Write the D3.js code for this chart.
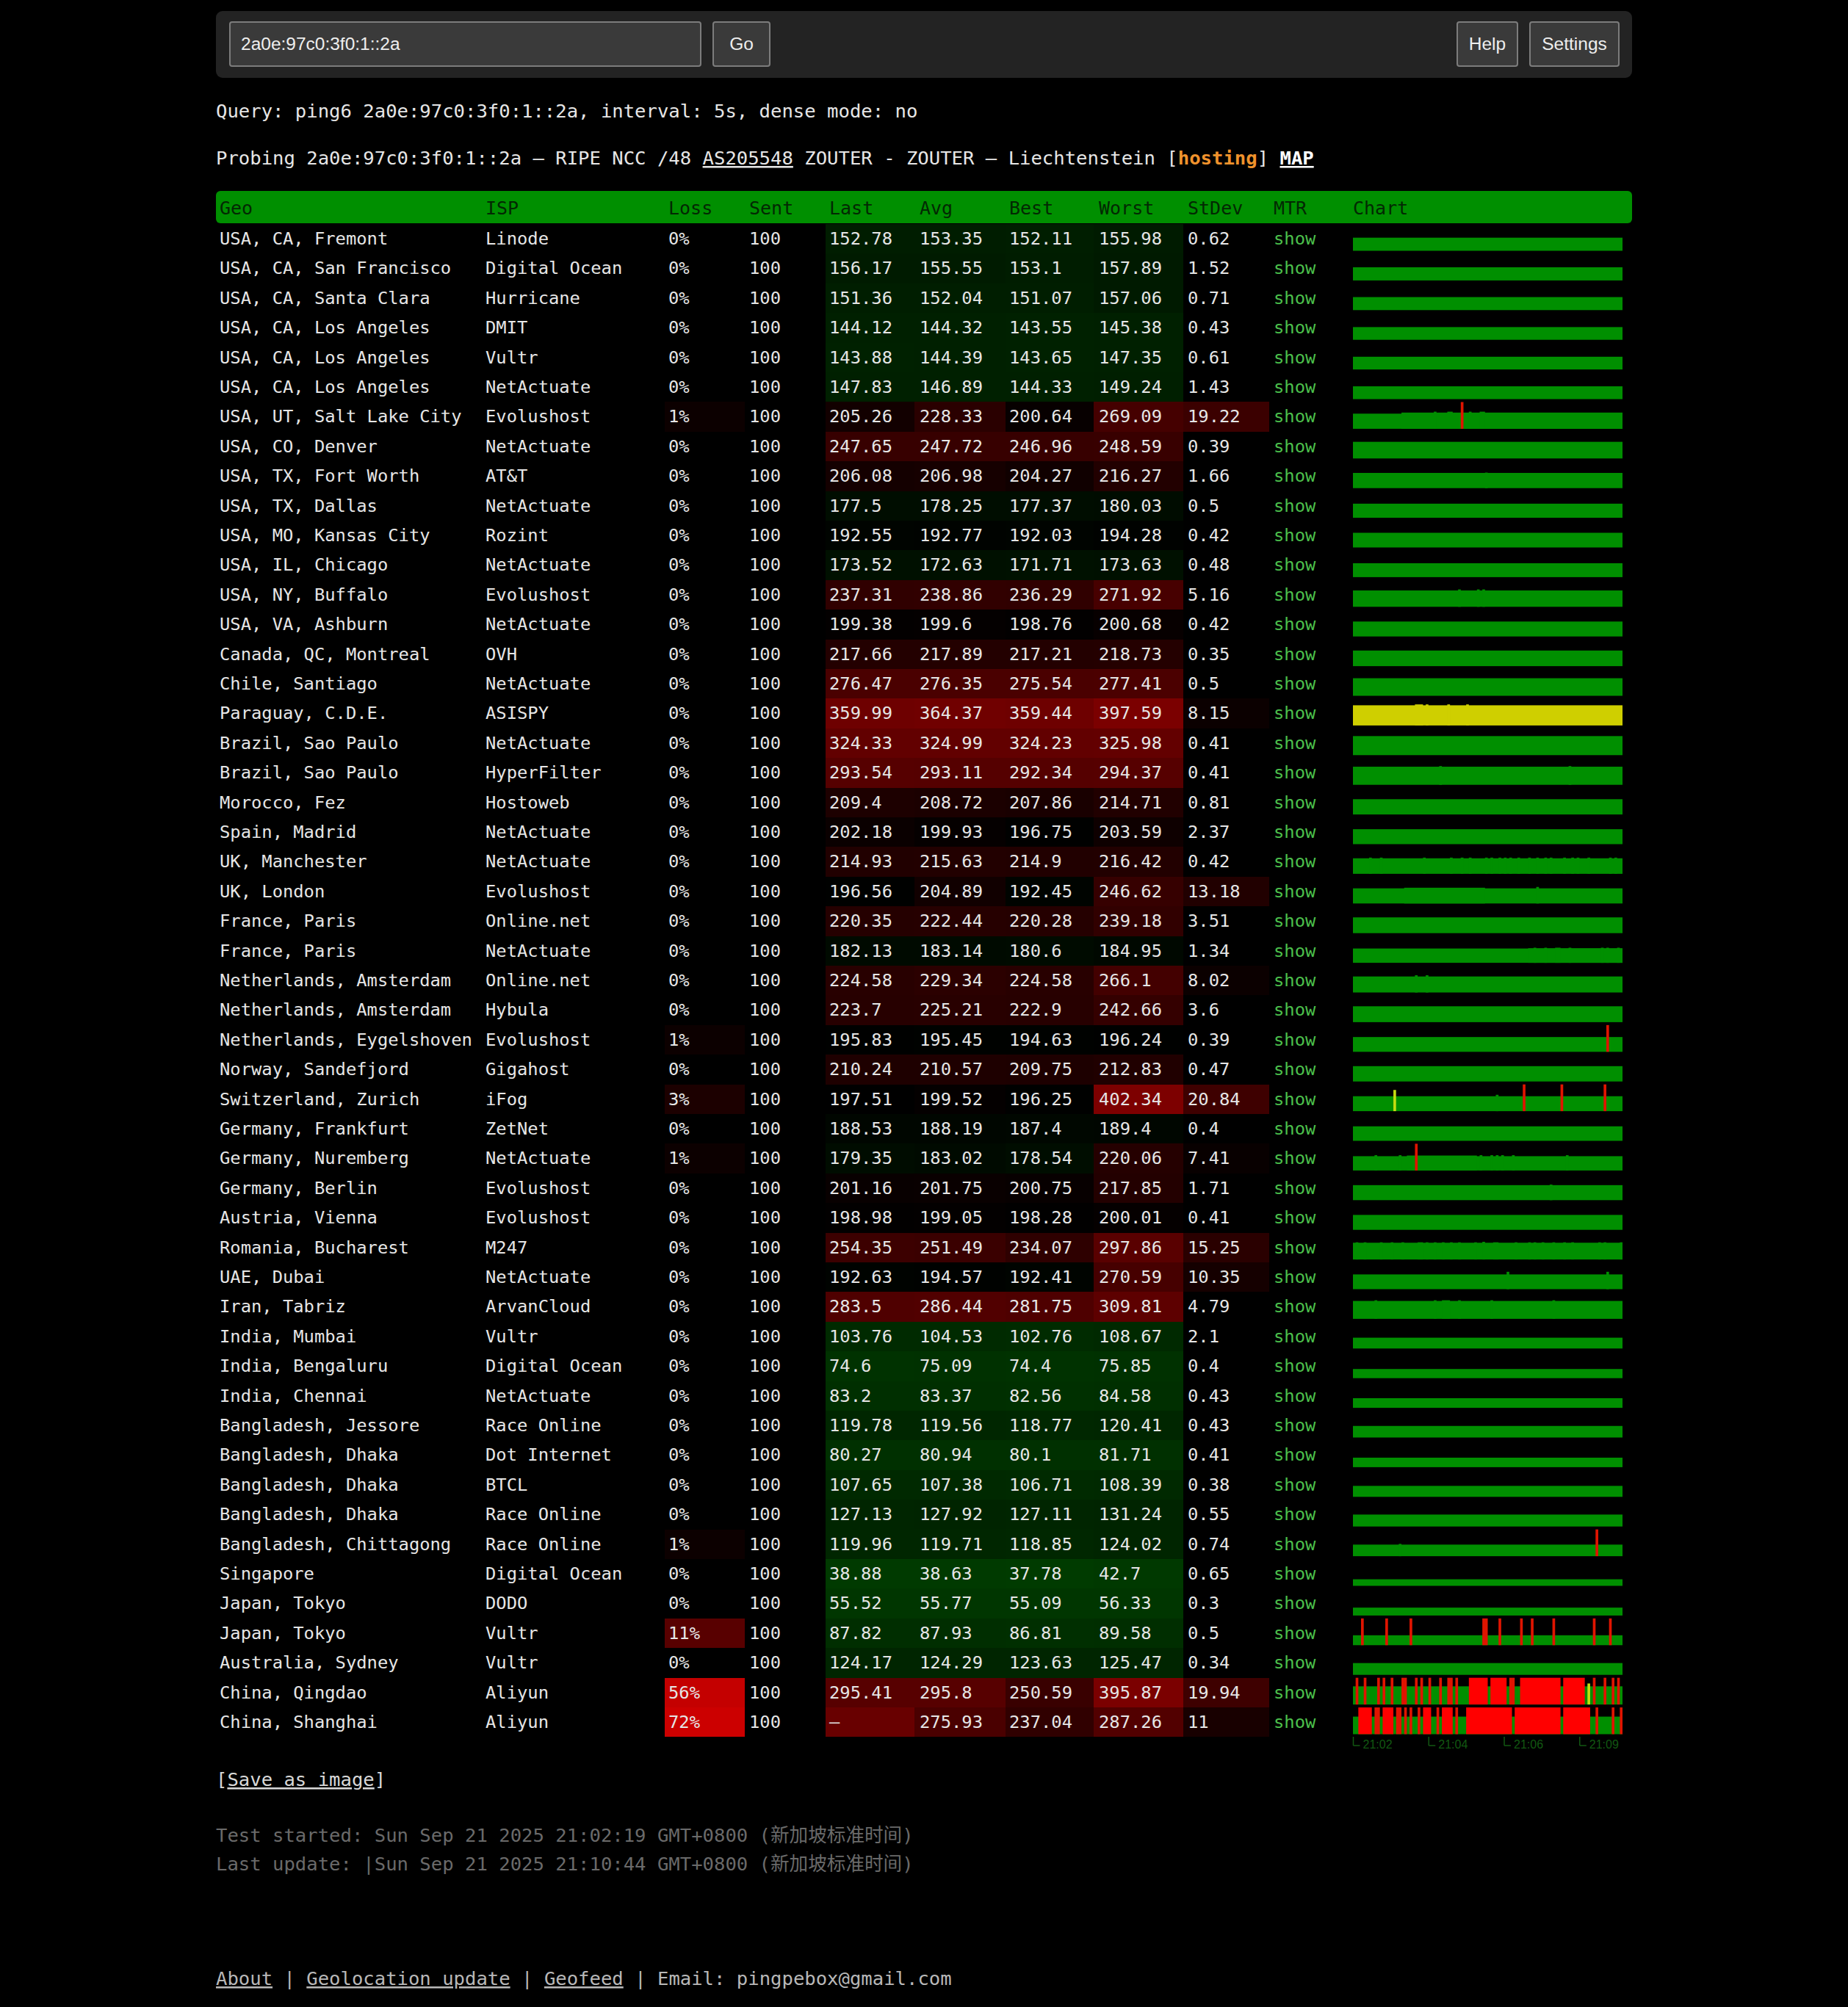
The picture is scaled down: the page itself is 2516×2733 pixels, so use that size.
<!DOCTYPE html>
<html>
<head>
<meta charset="utf-8">
<script src="https://d3js.org/d3.v7.min.js"></script>
<style>
html, body { margin: 0; background: #000; }
svg { display: block; }
text { white-space: pre; }
</style>
</head>
<body>
<div id="root"></div>
<script>
const geos = ['USA, CA, Fremont', 'USA, CA, San Francisco', 'USA, CA, Santa Clara', 'USA, CA, Los Angeles', 'USA, CA, Los Angeles', 'USA, CA, Los Angeles', 'USA, UT, Salt Lake City', 'USA, CO, Denver', 'USA, TX, Fort Worth', 'USA, TX, Dallas', 'USA, MO, Kansas City', 'USA, IL, Chicago', 'USA, NY, Buffalo', 'USA, VA, Ashburn', 'Canada, QC, Montreal', 'Chile, Santiago', 'Paraguay, C.D.E.', 'Brazil, Sao Paulo', 'Brazil, Sao Paulo', 'Morocco, Fez', 'Spain, Madrid', 'UK, Manchester', 'UK, London', 'France, Paris', 'France, Paris', 'Netherlands, Amsterdam', 'Netherlands, Amsterdam', 'Netherlands, Eygelshoven', 'Norway, Sandefjord', 'Switzerland, Zurich', 'Germany, Frankfurt', 'Germany, Nuremberg', 'Germany, Berlin', 'Austria, Vienna', 'Romania, Bucharest', 'UAE, Dubai', 'Iran, Tabriz', 'India, Mumbai', 'India, Bengaluru', 'India, Chennai', 'Bangladesh, Jessore', 'Bangladesh, Dhaka', 'Bangladesh, Dhaka', 'Bangladesh, Dhaka', 'Bangladesh, Chittagong', 'Singapore', 'Japan, Tokyo', 'Japan, Tokyo', 'Australia, Sydney', 'China, Qingdao', 'China, Shanghai']
const isps = ['Linode', 'Digital Ocean', 'Hurricane', 'DMIT', 'Vultr', 'NetActuate', 'Evolushost', 'NetActuate', 'AT&T', 'NetActuate', 'Rozint', 'NetActuate', 'Evolushost', 'NetActuate', 'OVH', 'NetActuate', 'ASISPY', 'NetActuate', 'HyperFilter', 'Hostoweb', 'NetActuate', 'NetActuate', 'Evolushost', 'Online.net', 'NetActuate', 'Online.net', 'Hybula', 'Evolushost', 'Gigahost', 'iFog', 'ZetNet', 'NetActuate', 'Evolushost', 'Evolushost', 'M247', 'NetActuate', 'ArvanCloud', 'Vultr', 'Digital Ocean', 'NetActuate', 'Race Online', 'Dot Internet', 'BTCL', 'Race Online', 'Race Online', 'Digital Ocean', 'DODO', 'Vultr', 'Vultr', 'Aliyun', 'Aliyun']
const loss = [0, 0, 0, 0, 0, 0, 1, 0, 0, 0, 0, 0, 0, 0, 0, 0, 0, 0, 0, 0, 0, 0, 0, 0, 0, 0, 0, 1, 0, 3, 0, 1, 0, 0, 0, 0, 0, 0, 0, 0, 0, 0, 0, 0, 1, 0, 0, 11, 0, 56, 72]
const last = [152.78, 156.17, 151.36, 144.12, 143.88, 147.83, 205.26, 247.65, 206.08, 177.5, 192.55, 173.52, 237.31, 199.38, 217.66, 276.47, 359.99, 324.33, 293.54, 209.4, 202.18, 214.93, 196.56, 220.35, 182.13, 224.58, 223.7, 195.83, 210.24, 197.51, 188.53, 179.35, 201.16, 198.98, 254.35, 192.63, 283.5, 103.76, 74.6, 83.2, 119.78, 80.27, 107.65, 127.13, 119.96, 38.88, 55.52, 87.82, 124.17, 295.41, null]
const avg = [153.35, 155.55, 152.04, 144.32, 144.39, 146.89, 228.33, 247.72, 206.98, 178.25, 192.77, 172.63, 238.86, 199.6, 217.89, 276.35, 364.37, 324.99, 293.11, 208.72, 199.93, 215.63, 204.89, 222.44, 183.14, 229.34, 225.21, 195.45, 210.57, 199.52, 188.19, 183.02, 201.75, 199.05, 251.49, 194.57, 286.44, 104.53, 75.09, 83.37, 119.56, 80.94, 107.38, 127.92, 119.71, 38.63, 55.77, 87.93, 124.29, 295.8, 275.93]
const best = [152.11, 153.1, 151.07, 143.55, 143.65, 144.33, 200.64, 246.96, 204.27, 177.37, 192.03, 171.71, 236.29, 198.76, 217.21, 275.54, 359.44, 324.23, 292.34, 207.86, 196.75, 214.9, 192.45, 220.28, 180.6, 224.58, 222.9, 194.63, 209.75, 196.25, 187.4, 178.54, 200.75, 198.28, 234.07, 192.41, 281.75, 102.76, 74.4, 82.56, 118.77, 80.1, 106.71, 127.11, 118.85, 37.78, 55.09, 86.81, 123.63, 250.59, 237.04]
const worst = [155.98, 157.89, 157.06, 145.38, 147.35, 149.24, 269.09, 248.59, 216.27, 180.03, 194.28, 173.63, 271.92, 200.68, 218.73, 277.41, 397.59, 325.98, 294.37, 214.71, 203.59, 216.42, 246.62, 239.18, 184.95, 266.1, 242.66, 196.24, 212.83, 402.34, 189.4, 220.06, 217.85, 200.01, 297.86, 270.59, 309.81, 108.67, 75.85, 84.58, 120.41, 81.71, 108.39, 131.24, 124.02, 42.7, 56.33, 89.58, 125.47, 395.87, 287.26]
const stdev = [0.62, 1.52, 0.71, 0.43, 0.61, 1.43, 19.22, 0.39, 1.66, 0.5, 0.42, 0.48, 5.16, 0.42, 0.35, 0.5, 8.15, 0.41, 0.41, 0.81, 2.37, 0.42, 13.18, 3.51, 1.34, 8.02, 3.6, 0.39, 0.47, 20.84, 0.4, 7.41, 1.71, 0.41, 15.25, 10.35, 4.79, 2.1, 0.4, 0.43, 0.43, 0.41, 0.38, 0.55, 0.74, 0.65, 0.3, 0.5, 0.34, 19.94, 11]

const columns = ['Geo', 'ISP', 'Loss', 'Sent', 'Last', 'Avg', 'Best', 'Worst', 'StDev', 'MTR', 'Chart']
const sentCount = 100

// sparkline details: [row, first sample, last sample, ms]
const sampleRuns = [
  [6, 18, 99, 235], [6, 30, 30, 262], [6, 35, 36, 262], [6, 43, 43, 262], [6, 47, 48, 262],
  [8, 49, 49, 216],
  [12, 39, 39, 271], [12, 46, 46, 271], [12, 48, 48, 271],
  [16, 23, 25, 397], [16, 27, 27, 397], [16, 35, 35, 397], [16, 42, 42, 397],
  [18, 32, 32, 315], [18, 80, 80, 315],
  [21, 6, 6, 235], [21, 10, 10, 235], [21, 26, 26, 235], [21, 36, 36, 235], [21, 40, 40, 235], [21, 43, 43, 235], [21, 49, 49, 235], [21, 51, 51, 235], [21, 54, 54, 235], [21, 56, 56, 235], [21, 58, 58, 235], [21, 61, 61, 235], [21, 65, 65, 235], [21, 68, 68, 235], [21, 71, 71, 235], [21, 73, 73, 235], [21, 78, 78, 235], [21, 81, 81, 235], [21, 83, 83, 235], [21, 87, 87, 235], [21, 95, 95, 235], [21, 97, 97, 235],
  [22, 19, 48, 222], [22, 68, 68, 245],
  [24, 65, 99, 190], [24, 67, 67, 205], [24, 71, 71, 205], [24, 75, 76, 205], [24, 80, 80, 205], [24, 92, 92, 205], [24, 94, 94, 205], [24, 98, 98, 205],
  [25, 23, 23, 266], [25, 27, 27, 266],
  [29, 15, 15, 402], [29, 53, 53, 240],
  [31, 8, 8, 210], [31, 17, 17, 210], [31, 20, 45, 200], [31, 47, 47, 210], [31, 51, 51, 210], [31, 53, 53, 210], [31, 55, 55, 210], [31, 59, 59, 210], [31, 79, 79, 210],
  [32, 73, 73, 217],
  [34, 1, 1, 265], [34, 4, 4, 265], [34, 10, 10, 265], [34, 14, 14, 265], [34, 18, 18, 265], [34, 24, 25, 265], [34, 27, 27, 265], [34, 30, 30, 265], [34, 33, 33, 265], [34, 36, 36, 265], [34, 39, 39, 265], [34, 45, 45, 265], [34, 48, 48, 280], [34, 52, 53, 265], [34, 60, 60, 265], [34, 65, 65, 265], [34, 67, 67, 265], [34, 70, 70, 265], [34, 74, 74, 265], [34, 78, 78, 265], [34, 81, 81, 265], [34, 91, 91, 265], [34, 93, 93, 265], [34, 99, 99, 265],
  [35, 57, 57, 270], [35, 94, 94, 270],
  [36, 8, 8, 309], [36, 30, 30, 309], [36, 33, 35, 309], [36, 39, 39, 309], [36, 51, 51, 309], [36, 74, 74, 309],
  [44, 17, 17, 135],
  [49, 87, 87, 395.87]
]
// lost probes: [row, first sample, last sample]
const lostRuns = [
  [6, 40, 40], [27, 94, 94], [29, 63, 63], [29, 77, 77], [29, 93, 93], [31, 23, 23], [44, 90, 90],
  [47, 3, 3], [47, 12, 12], [47, 21, 21], [47, 48, 49], [47, 54, 54], [47, 62, 62], [47, 66, 66], [47, 74, 74], [47, 89, 89], [47, 95, 95],
  [49, 1, 1], [49, 4, 4], [49, 9, 9], [49, 11, 11], [49, 14, 14], [49, 18, 19], [49, 23, 23], [49, 25, 25], [49, 28, 28], [49, 32, 32], [49, 35, 36], [49, 38, 38], [49, 43, 49], [49, 51, 56], [49, 58, 59], [49, 62, 76], [49, 78, 85], [49, 89, 89], [49, 93, 93], [49, 96, 96], [49, 98, 98],
  [50, 2, 6], [50, 8, 9], [50, 11, 14], [50, 16, 17], [50, 19, 19], [50, 21, 21], [50, 24, 24], [50, 26, 28], [50, 31, 31], [50, 33, 36], [50, 38, 38], [50, 42, 58], [50, 60, 76], [50, 78, 87], [50, 90, 90], [50, 96, 96], [50, 99, 99]
]
const chartLevelOverride = { 6: 205 }
const timeTickSamples = [0, 28, 56, 84]
const timeTickLabels = ['21:02', '21:04', '21:06', '21:09']

const mono = '"DejaVu Sans Mono", monospace'
const sans = '"Liberation Sans", sans-serif'
const bodySize = 25.6
const tableSize = 23.8
const gray = '#e6e6e6'

const svg = d3.select('#root').append('svg')
svg.attr('width', 2516).attr('height', 2733)

// Top bar
svg.append('rect').attr('x', 294).attr('y', 15).attr('width', 1928).attr('height', 91).attr('rx', 9).attr('fill', '#232323')

function field(x, w, label, textX, anchor) {
  svg.append('rect')
    .attr('x', x).attr('y', 30).attr('width', w).attr('height', 60).attr('rx', 3)
    .attr('fill', '#3a3a3a').attr('stroke', '#7c7c7c').attr('stroke-width', 2)
  svg.append('text')
    .attr('x', textX).attr('y', 68)
    .attr('text-anchor', anchor)
    .attr('font-family', sans).attr('font-size', 24.5).attr('fill', '#eeeeee')
    .text(label)
}
field(313, 641, '2a0e:97c0:3f0:1::2a', 328, 'start')
field(971, 77, 'Go', 1009.5, 'middle')
field(1984, 82, 'Help', 2025, 'middle')
field(2083, 121, 'Settings', 2143.5, 'middle')

// Info lines
function textLine(y, parts, fill) {
  const t = svg.append('text')
    .attr('x', 294).attr('y', y)
    .attr('font-family', mono + ', "Noto Sans CJK SC"').attr('font-size', bodySize).attr('fill', fill)
  parts.forEach(p => {
    const s = t.append('tspan').text(p.text)
    if (p.underline) s.attr('text-decoration', 'underline')
    if (p.bold) s.attr('font-weight', 'bold')
    if (p.fill) s.attr('fill', p.fill)
  })
}
textLine(159.5, [{ text: 'Query: ping6 2a0e:97c0:3f0:1::2a, interval: 5s, dense mode: no' }], gray)
textLine(224, [
  { text: 'Probing 2a0e:97c0:3f0:1::2a – RIPE NCC /48 ' },
  { text: 'AS205548', underline: true },
  { text: ' ZOUTER - ZOUTER – Liechtenstein [' },
  { text: 'hosting', bold: true, fill: '#f0922c' },
  { text: '] ' },
  { text: 'MAP', bold: true, underline: true, fill: '#fff' }
], gray)

// Table scales
const columnX = d3.scaleOrdinal().domain(columns).range([299, 661, 910, 1020, 1129, 1252, 1374, 1496, 1617, 1734, 1842])
const cellLeft = d3.scaleOrdinal().domain(['Loss', 'Last', 'Avg', 'Best', 'Worst', 'StDev']).range([905, 1124, 1245, 1369, 1489, 1611])
const cellRight = d3.scaleOrdinal().domain(['Loss', 'Last', 'Avg', 'Best', 'Worst', 'StDev']).range([1014, 1245, 1369, 1489, 1611, 1728])
const rowY = d3.scaleBand().domain(d3.range(geos.length)).range([305, 305 + 40.4 * geos.length])

const msColor = d3.scaleLinear()
  .domain([40, 150, 198, 210, 300, 400])
  .range(['#003a00', '#001f00', '#000000', '#1e0000', '#5a0000', '#7c0000'])
const lossColor = d3.scaleLinear().domain([0, 1, 3, 11, 56, 72]).range(['#000000', '#0c0000', '#1c0000', '#580000', '#c40000', '#cc0000'])
const stdevColor = d3.scaleLinear().domain([5.5, 20]).range(['#000000', '#3e0000']).clamp(true)
const missingColor = '#680000'

// Header
svg.append('rect').attr('x', 294).attr('y', 260).attr('width', 1928).attr('height', 44).attr('rx', 6).attr('fill', '#008f00')
svg.selectAll('.head').data(columns).join('text')
  .attr('class', 'head')
  .attr('x', d => columnX(d)).attr('y', 292)
  .attr('font-family', mono).attr('font-size', tableSize + 1.2).attr('fill', '#032803')
  .text(d => d)

// Cell backgrounds
const heatColumns = [
  ['Loss', loss, lossColor],
  ['Last', last, msColor],
  ['Avg', avg, msColor],
  ['Best', best, msColor],
  ['Worst', worst, msColor],
  ['StDev', stdev, stdevColor]
]
heatColumns.forEach(([name, values, color]) => {
  svg.append('g').selectAll('rect').data(values).join('rect')
    .attr('x', cellLeft(name))
    .attr('y', (d, i) => rowY(i))
    .attr('width', cellRight(name) - cellLeft(name))
    .attr('height', rowY.bandwidth())
    .attr('shape-rendering', 'crispEdges')
    .attr('fill', d => d === null ? missingColor : color(d))
})

// Cell text
const textColumns = [
  ['Geo', geos, d => d],
  ['ISP', isps, d => d],
  ['Loss', loss, d => d + '%'],
  ['Sent', loss, () => sentCount],
  ['Last', last, d => d === null ? '–' : d],
  ['Avg', avg, d => d],
  ['Best', best, d => d],
  ['Worst', worst, d => d],
  ['StDev', stdev, d => d],
  ['MTR', loss, () => 'show']
]
textColumns.forEach(([name, values, format]) => {
  svg.append('g').selectAll('text').data(values).join('text')
    .attr('x', columnX(name))
    .attr('y', (d, i) => rowY(i) + 28)
    .attr('font-family', mono).attr('font-size', tableSize)
    .attr('fill', name === 'MTR' ? '#4cc04c' : gray)
    .text(format)
})

// Sparklines
const sampleX = d3.scaleLinear().domain([0, sentCount]).range([1842, 2209])
const sampleH = d3.scaleSqrt().domain([0, 400]).range([0, 28.8])
const lostMs = 640
const chartBottom = r => rowY(r) + 36.5
const levelColor = ms => ms >= 350 ? '#cfcf00' : '#008f00'

svg.append('g').selectAll('rect').data(avg).join('rect')
  .attr('x', sampleX(0))
  .attr('width', sampleX(sentCount) - sampleX(0))
  .attr('y', (d, i) => chartBottom(i) - sampleH(chartLevelOverride[i] || d))
  .attr('height', (d, i) => sampleH(chartLevelOverride[i] || d))
  .attr('fill', d => levelColor(d))

svg.append('g').selectAll('rect').data(sampleRuns).join('rect')
  .attr('x', d => sampleX(d[1]))
  .attr('width', d => sampleX(d[2] + 1) - sampleX(d[1]))
  .attr('y', d => chartBottom(d[0]) - sampleH(d[3]))
  .attr('height', d => sampleH(d[3]))
  .attr('fill', d => d[3] >= 390 && d[0] !== 16 ? '#c4dc10' : levelColor(d[3]))

svg.append('g').selectAll('rect').data(lostRuns).join('rect')
  .attr('x', d => sampleX(d[1]))
  .attr('width', d => sampleX(d[2] + 1) - sampleX(d[1]))
  .attr('y', d => chartBottom(d[0]) - sampleH(lostMs))
  .attr('height', sampleH(lostMs))
  .attr('fill', d => d[2] > d[1] + 1 ? '#ff0000' : '#e01400')

// Time axis
const axisGroup = svg.append('g')
  .attr('transform', 'translate(0,2365)')
  .call(d3.axisBottom(sampleX).tickValues(timeTickSamples).tickFormat((d, i) => timeTickLabels[i]).tickSize(12))
axisGroup.select('.domain').remove()
axisGroup.selectAll('.tick line').attr('stroke', '#125812').attr('stroke-width', 1.5)
axisGroup.selectAll('.tick').append('line')
  .attr('x1', 0).attr('x2', 9).attr('y1', 12).attr('y2', 12)
  .attr('stroke', '#125812').attr('stroke-width', 1.5)
axisGroup.selectAll('.tick text')
  .attr('x', 13).attr('y', 16).attr('dy', 0)
  .attr('text-anchor', 'start')
  .attr('font-family', sans).attr('font-size', 16).attr('fill', '#125812')

// Footer
textLine(2432, [{ text: '[' }, { text: 'Save as image', underline: true }, { text: ']' }], '#d8d8d8')
textLine(2508, [{ text: 'Test started: Sun Sep 21 2025 21:02:19 GMT+0800 (新加坡标准时间)' }], '#6a6a6a')
textLine(2547, [{ text: 'Last update: |Sun Sep 21 2025 21:10:44 GMT+0800 (新加坡标准时间)' }], '#6a6a6a')
textLine(2703, [
  { text: 'About', underline: true },
  { text: ' | ' },
  { text: 'Geolocation update', underline: true },
  { text: ' | ' },
  { text: 'Geofeed', underline: true },
  { text: ' | Email: pingpebox@gmail.com' }
], '#b8b8b8')
</script>
</body>
</html>
